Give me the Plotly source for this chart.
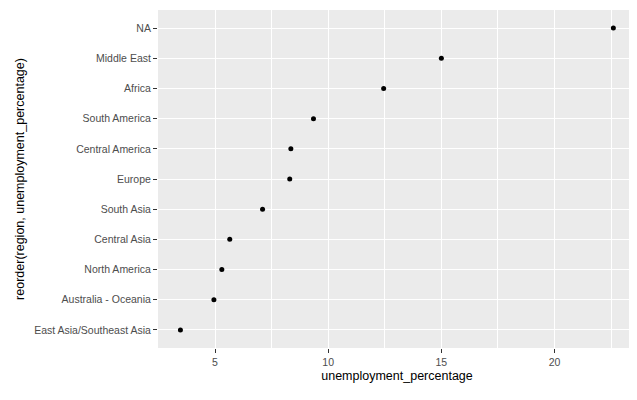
import plotly.graph_objects as go

regions = ["East Asia/Southeast Asia", "Australia - Oceania", "North America", "Central Asia",
           "South Asia", "Europe", "Central America", "South America", "Africa", "Middle East", "NA"]
unemployment = [3.47, 4.95, 5.3, 5.65, 7.1, 8.3, 8.35, 9.35, 12.45, 15.0, 22.6]

fig = go.Figure(go.Scatter(
    x=unemployment, y=regions, mode="markers",
    marker=dict(color="black", size=5),
))

axis_font = dict(family="Liberation Sans, Arial", size=10.5, color="#4D4D4D")
fig.update_xaxes(
    range=[2.48, 23.6], tickvals=[5, 10, 15, 20], showgrid=True, gridcolor="white",
    gridwidth=1.2, zeroline=False, ticks="outside", ticklen=4, tickcolor="#333",
    tickfont=axis_font,
    minor=dict(tickvals=[2.5, 7.5, 12.5, 17.5, 22.5], showgrid=True, gridcolor="white", gridwidth=0.6),
    title=dict(text="unemployment_percentage", font=dict(family="Liberation Sans, Arial", size=12.5, color="black"), standoff=4),
)
fig.update_yaxes(
    categoryorder="array", categoryarray=regions, showgrid=True, gridcolor="white", gridwidth=1.2,
    ticks="outside", ticklen=4, tickcolor="#333", tickfont=axis_font, range=[-0.6, 10.6],
    title=dict(text="reorder(region, unemployment_percentage)", font=dict(family="Liberation Sans, Arial", size=12.5, color="black"), standoff=6),
)
fig.update_layout(
    width=637, height=400, plot_bgcolor="#EBEBEB", paper_bgcolor="white",
    margin=dict(l=150, r=9, t=2, b=60, pad=0), showlegend=False,
)
fig.write_html("out.html")
